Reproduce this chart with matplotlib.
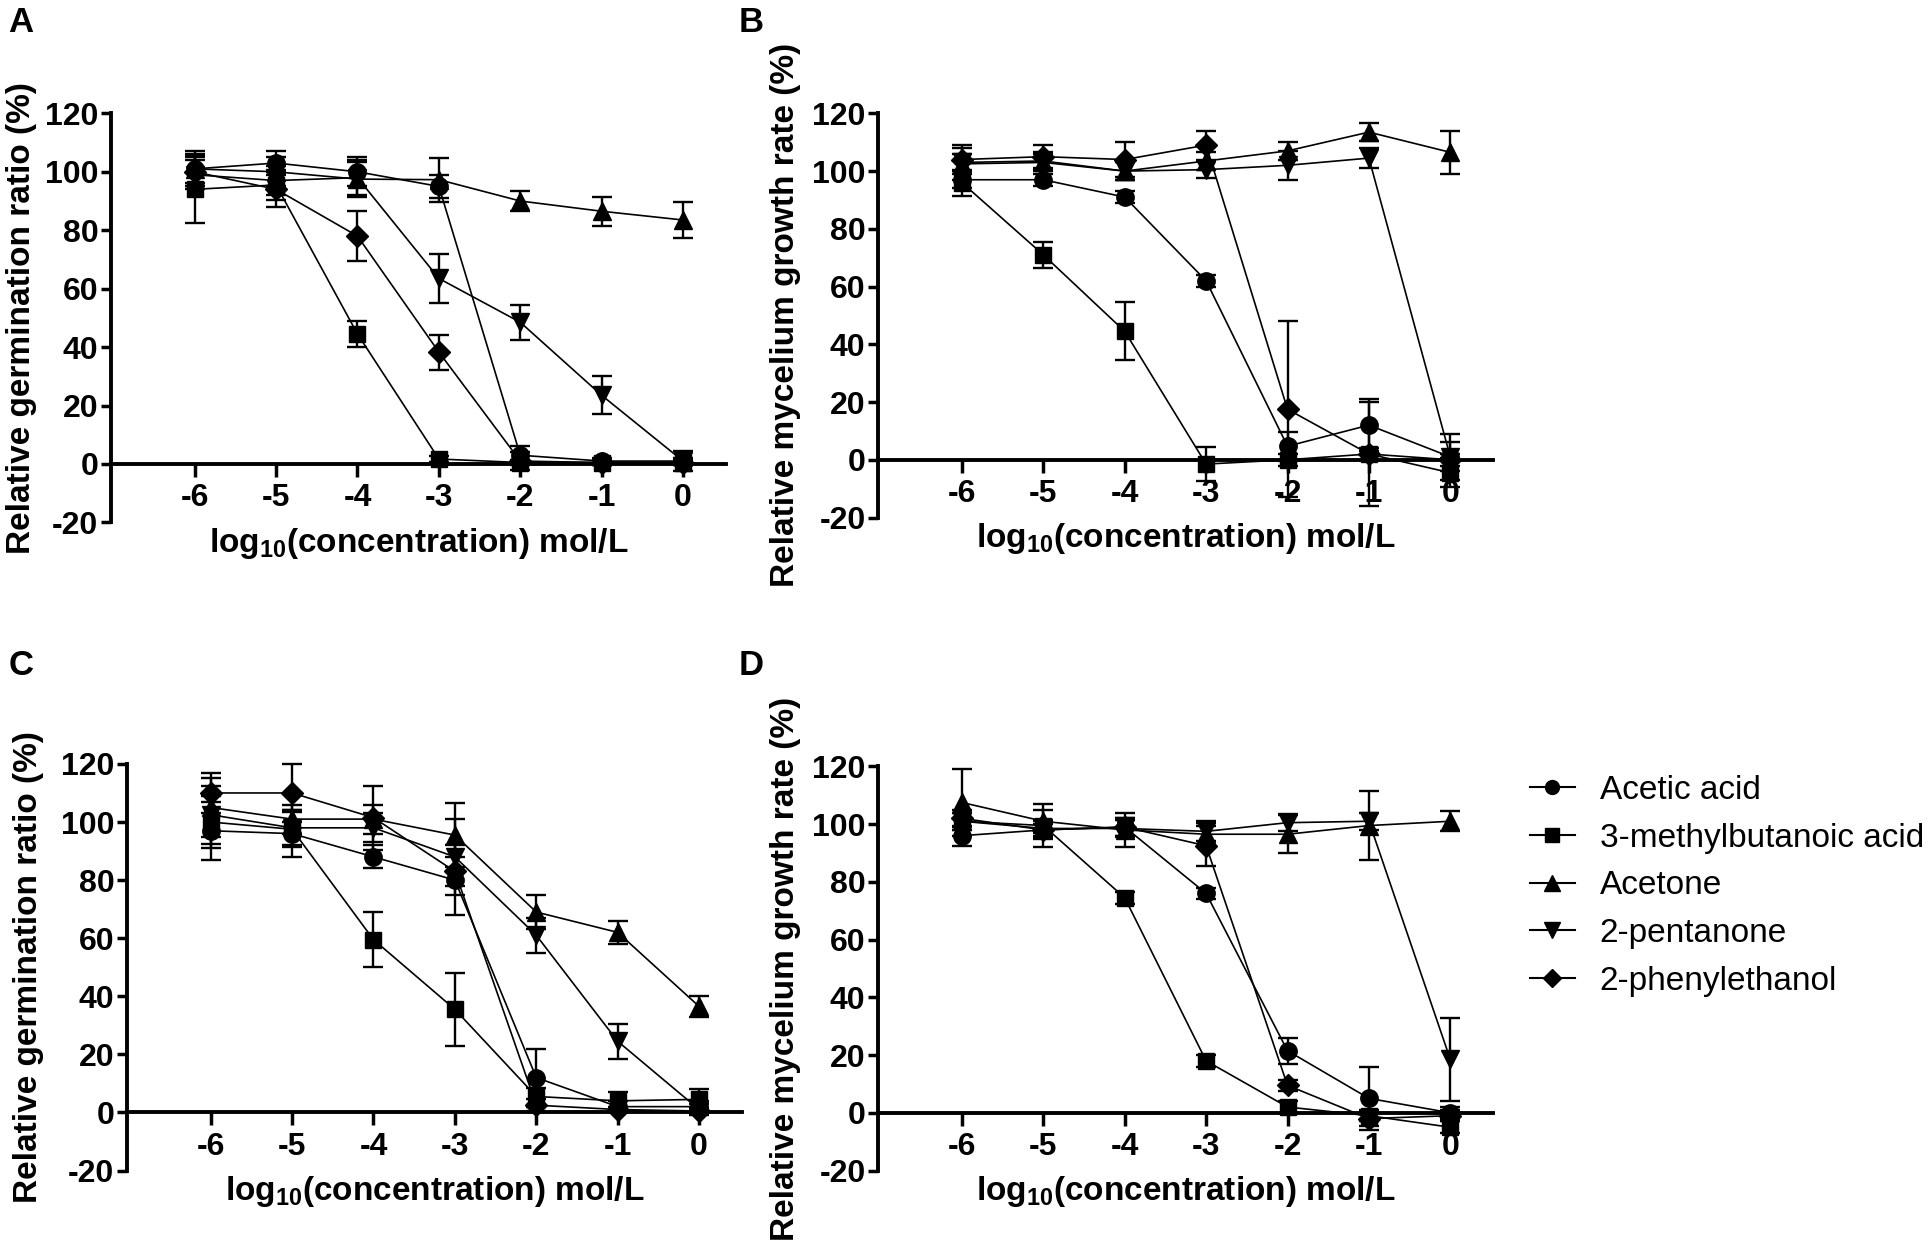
import matplotlib
matplotlib.use('Agg')
import matplotlib.pyplot as plt
from matplotlib.lines import Line2D

plt.rcParams['font.family'] = ['Liberation Sans', 'DejaVu Sans']
plt.rcParams['axes.unicode_minus'] = False
plt.rcParams['mathtext.fontset'] = 'custom'
plt.rcParams['mathtext.rm'] = 'Liberation Sans'
plt.rcParams['mathtext.bf'] = 'Liberation Sans:bold'

# ---------------- data ----------------
x_conc = [-6, -5, -4, -3, -2, -1, 0]
x_ticklabels = ['-6', '-5', '-4', '-3', '-2', '-1', '0']
y_ticks = [-20, 0, 20, 40, 60, 80, 100, 120]
compounds = ['Acetic acid', '3-methylbutanoic acid', 'Acetone', '2-pentanone', '2-phenylethanol']

# Panel A - relative germination ratio
A_acetic = [101, 103, 100, 95, 3, 1, 1]
A_acetic_err = [5, 4, 5, 4, 3, 1, 1]
A_methylbut = [94, 95.5, 44.5, 1.7, 0.5, 0.5, 0.5]
A_methylbut_err = [11.5, 5, 4.5, 1, 1, 1, 1]
A_acetone = [101, 100, 97.5, 97.3, 90, 86.5, 83.5]
A_acetone_err = [6, 5, 6, 7.5, 3.5, 5, 6]
A_pentanone = [99, 97, 98, 63.5, 48.5, 23.5, 1]
A_pentanone_err = [5, 5, 6, 8.5, 6, 6.5, 3.5]
A_phenylethanol = [100, 94, 78, 38.3, 1, 0.5, 0.5]
A_phenylethanol_err = [5, 6, 8.5, 6, 3, 1, 1]

# Panel B - relative mycelium growth rate
B_acetic = [97, 97, 91, 62, 4.7, 12, 1]
B_acetic_err = [3, 2, 2, 2, 5, 9, 5]
B_methylbut = [96, 71, 44.5, -1.5, 0, 2, -4.5]
B_methylbut_err = [4.5, 4.5, 10, 6, 2, 18, 5]
B_acetone = [102.5, 103, 100, 103.5, 107, 113.5, 106.5]
B_acetone_err = [5.5, 3, 3, 3, 3, 3, 7.5]
B_pentanone = [103, 103.5, 100, 100.5, 102, 104.5, 1]
B_pentanone_err = [3, 3, 3, 3, 5, 3.5, 8]
B_phenylethanol = [104, 105, 104, 109, 17.5, 2, 0]
B_phenylethanol_err = [5, 4, 6, 5, 30.5, 2, 2]

# Panel C - relative germination ratio
C_acetic = [97, 96, 88, 80, 12, 2, 2]
C_acetic_err = [10, 8, 4, 12, 10, 2, 2]
C_methylbut = [100, 97.5, 59.5, 35.5, 5.5, 4, 4.5]
C_methylbut_err = [9, 6, 9.5, 12.5, 3, 3, 3.5]
C_acetone = [105, 101, 101, 95.5, 69, 62, 36.5]
C_acetone_err = [10, 5, 5, 11, 6, 4, 3.5]
C_pentanone = [102.5, 98, 98, 88, 61, 24.5, 1]
C_pentanone_err = [10, 6, 5, 13, 6, 6, 2]
C_phenylethanol = [110, 110, 101.5, 83, 2.5, 1, 0.5]
C_phenylethanol_err = [7, 10, 11, 5, 2, 1, 1]

# Panel D - relative mycelium growth rate
D_acetic = [96, 98, 99, 76, 21.5, 5, 0]
D_acetic_err = [3.5, 2, 3, 2, 4.5, 11, 2]
D_methylbut = [101, 99.5, 74.5, 18, 2, -1, -5]
D_methylbut_err = [3, 7.5, 2, 2, 2, 2, 2]
D_acetone = [107.5, 101, 98, 96.5, 96.5, 99.5, 101]
D_acetone_err = [11.5, 4, 6, 4, 6.5, 12, 3.5]
D_pentanone = [101, 98.5, 98.5, 97.5, 100.5, 101, 18.5]
D_pentanone_err = [3, 3, 3, 3.5, 3, 3, 14.5]
D_phenylethanol = [102, 98, 99, 92.5, 9.5, -2, -1]
D_phenylethanol_err = [3, 3, 3, 7, 2, 2.5, 2]

panel_letters = ['A', 'B', 'C', 'D']
ylabels = ['Relative germination ratio (%)', 'Relative mycelium growth rate (%)',
           'Relative germination ratio (%)', 'Relative mycelium growth rate (%)']
xlabel = r'log$_{\mathbf{10}}$(concentration) mol/L'

# ---------------- styling ----------------
markers = ['o', 's', '^', 'v', 'D']
msizes = [12.5, 12, 13.5, 13.5, 11.5]
leg_msizes = [10, 10, 11, 11, 9]

fig = plt.figure(figsize=(19.31, 12.42), dpi=100)

W, H = 1568.0, 1008.0
rects = [
    [90 / W, 1 - 424 / H, 499.7 / W, 332 / H],
    [713 / W, 1 - 420 / H, 499.7 / W, 328 / H],
    [103 / W, 1 - 950 / H, 499.7 / W, 330 / H],
    [713 / W, 1 - 950 / H, 499.7 / W, 328 / H],
]
ylabel_x = [-0.12, -0.126, -0.134, -0.126]
letter_pos = [(7 / W, 1 - 18 / H), (600 / W, 1 - 18 / H), (7 / W, 1 - 540 / H), (600 / W, 1 - 540 / H)]

panels = [
    ([A_acetic, A_methylbut, A_acetone, A_pentanone, A_phenylethanol],
     [A_acetic_err, A_methylbut_err, A_acetone_err, A_pentanone_err, A_phenylethanol_err]),
    ([B_acetic, B_methylbut, B_acetone, B_pentanone, B_phenylethanol],
     [B_acetic_err, B_methylbut_err, B_acetone_err, B_pentanone_err, B_phenylethanol_err]),
    ([C_acetic, C_methylbut, C_acetone, C_pentanone, C_phenylethanol],
     [C_acetic_err, C_methylbut_err, C_acetone_err, C_pentanone_err, C_phenylethanol_err]),
    ([D_acetic, D_methylbut, D_acetone, D_pentanone, D_phenylethanol],
     [D_acetic_err, D_methylbut_err, D_acetone_err, D_pentanone_err, D_phenylethanol_err]),
]

for k, (vals, errs) in enumerate(panels):
    ax = fig.add_axes(rects[k])
    for i in range(len(compounds)):
        cont = ax.errorbar(x_conc, vals[i], yerr=errs[i], fmt='-', marker=markers[i],
                           ms=msizes[i], color='black', mfc='black', mec='black',
                           lw=1.2, elinewidth=1.7, capsize=7, capthick=1.7, zorder=3)
        for art in cont.get_children():
            art.set_clip_on(False)
    ax.set_xlim(-7.03, 0.53)
    ax.set_ylim(-20, 120)
    ax.spines['bottom'].set_position(('data', 0))
    ax.spines['top'].set_visible(False)
    ax.spines['right'].set_visible(False)
    for s in ['bottom', 'left']:
        ax.spines[s].set_linewidth(2.8)
        ax.spines[s].set_zorder(2)
    ax.set_xticks(x_conc)
    ax.set_xticklabels(x_ticklabels)
    ax.set_yticks(y_ticks)
    ax.tick_params(axis='x', direction='out', length=9, width=2.5, pad=5, labelsize=23)
    ax.tick_params(axis='y', direction='out', length=7, width=2.5, pad=2, labelsize=23)
    for lab in ax.get_xticklabels() + ax.get_yticklabels():
        lab.set_fontweight('bold')
    ax.set_ylabel(ylabels[k], fontsize=24, fontweight='bold')
    ax.yaxis.set_label_coords(ylabel_x[k], 0.5)
    ax.text(0.5, -0.052, xlabel, transform=ax.transAxes, ha='center', va='center',
            fontsize=24, fontweight='bold')
    fig.text(letter_pos[k][0], letter_pos[k][1], panel_letters[k], fontsize=25,
             fontweight='bold', ha='left', va='center')

handles = [Line2D([], [], color='black', marker=markers[i], ms=leg_msizes[i], lw=1.5)
           for i in range(len(compounds))]
fig.legend(handles, compounds, loc='center left', bbox_to_anchor=(1242 / W, 1 - 719 / H),
           frameon=False, fontsize=24, handlelength=1.35, handletextpad=0.75,
           labelspacing=0.5, borderpad=0, borderaxespad=0)

fig.savefig('out.png', dpi=100)
